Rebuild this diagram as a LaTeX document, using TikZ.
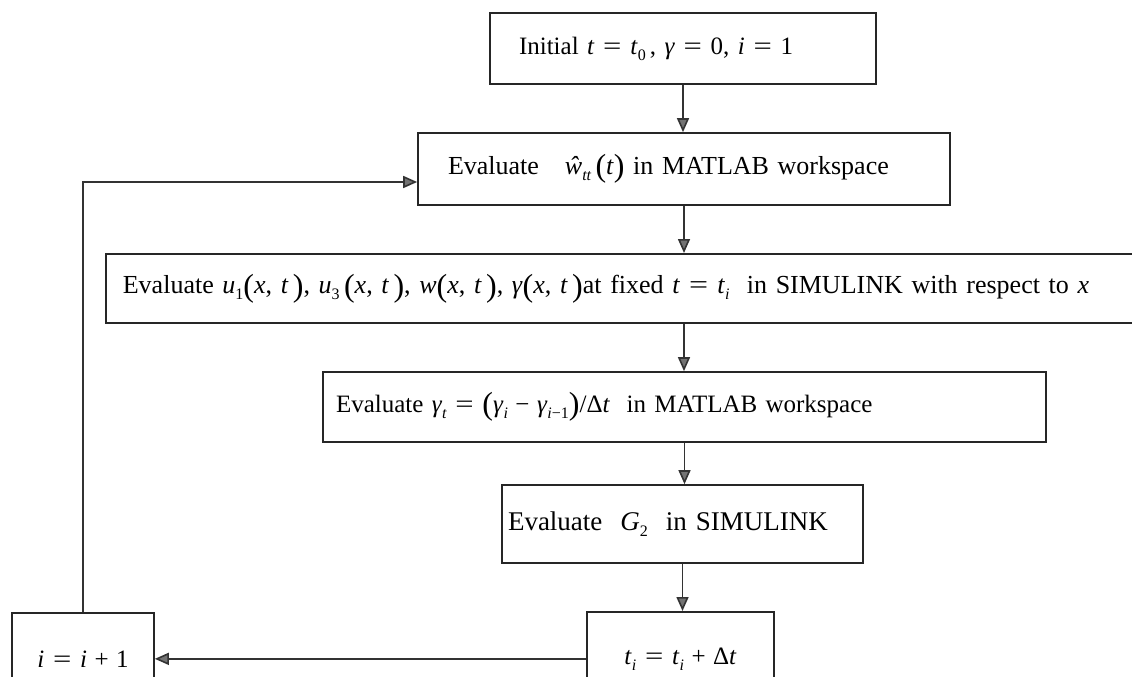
\documentclass[tikz,border=0pt]{standalone}
\usepackage{graphicx}
\usepackage{fontspec}
\setmainfont{Liberation Serif}
\usetikzlibrary{arrows.meta}
\newcommand{\vi}[1]{\textit{#1}}
\newcommand{\sbs}[1]{\raisebox{-6pt}{\fontsize{16}{16}\selectfont\itshape #1}}
\newcommand{\sbn}[1]{\raisebox{-6pt}{\fontsize{16}{16}\selectfont #1}}
\newcommand{\lp}{\raisebox{-2.5pt}{\fontsize{32}{32}\selectfont(}}
\newcommand{\rp}{\raisebox{-2.5pt}{\fontsize{32}{32}\selectfont)}}
\newcommand{\eqs}{\hspace{0.35em}\scalebox{1.3}[1]{=}\hspace{0.35em}}
\newcommand{\pls}{\hspace{0.3em}+\hspace{0.3em}}
\newcommand{\mns}{\hspace{0.3em}−\hspace{0.3em}}
\tikzset{
  box/.style={draw=black!85, line width=1.7pt, inner ysep=0pt, align=left,
    font=\fontsize{25}{29}\selectfont},
  bigtext/.style={font=\fontsize{26}{30}\selectfont},
  arr/.style={draw=black!80, line width=1.6pt,
    -{Triangle[length=14pt,width=12pt,fill=black!55]}}
}
\begin{document}
\begin{tikzpicture}[x=1pt,y=-1pt]
\useasboundingbox (0,0) rectangle (1132,677);
\node[box, inner xsep=29pt, text width=328pt, minimum height=71pt] (b1) at (683,48.5)
  {Initial \vi{t}\eqs\vi{t}\sbn{0}\,, \vi{γ}\eqs 0, \vi{i}\eqs 1};
\node[box, bigtext, inner xsep=30pt, text width=472pt, minimum height=72pt] (b2) at (684,169)
  {Evaluate \ \ \vi{ŵ}\sbs{tt}\,\lp\vi{t}\rp\ in MATLAB workspace};
\node[box, bigtext, anchor=north west, minimum height=69pt, text width=1100pt,
  inner xsep=17pt] (b3) at (105,253)
  {Evaluate \vi{u}\sbn{1}\lp\vi{x}, \vi{t}\,\rp, \vi{u}\sbn{3}\,\lp\vi{x}, \vi{t}\,\rp, \vi{w}\lp\vi{x}, \vi{t}\,\rp, \vi{γ}\lp\vi{x}, \vi{t}\,\rp at fixed \vi{t}\eqs\vi{t}\sbs{i}\ \ in SIMULINK with respect to \vi{x}};
\node[box, inner xsep=13pt, text width=697pt, minimum height=70pt] (b4) at (684.5,407)
  {Evaluate \vi{γ}\sbs{t}\eqs\lp\vi{γ}\sbs{i}\mns\vi{γ}\sbs{i}\sbn{−1}\rp/Δ\vi{t} \ in MATLAB workspace};
\node[box, font=\fontsize{27}{31}\selectfont, inner xsep=6pt, text width=349pt, minimum height=78pt] (b5) at (682.5,524)
  {Evaluate \ \vi{G}\sbn{2} \ in SIMULINK};
\node[box, align=center, inner xsep=0pt, minimum width=187pt, minimum height=94pt, anchor=north] (b6) at (680.5,611)
  {\vi{t}\sbs{i}\eqs\vi{t}\sbs{i}\pls Δ\vi{t}};
\node[box, align=center, inner xsep=0pt, minimum width=142pt, minimum height=92pt, anchor=north] (b7) at (83,612)
  {\vi{i}\eqs\vi{i}\pls 1};
\draw[arr] (b1.south) -- (b1.south |- b2.north);
\draw[arr] (b2.south) -- (b2.south |- b3.north);
\draw[arr] (b2.south |- b3.south) -- (b2.south |- b4.north);
\draw[arr] (b4.south) -- (b4.south |- b5.north);
\draw[arr] (b5.south) -- (b5.south |- b6.north);
\draw[arr] (b6.west) -- (b7.east);
\draw[arr] (b7.north) |- ([yshift=-13pt]b2.west);
\end{tikzpicture}
\end{document}
